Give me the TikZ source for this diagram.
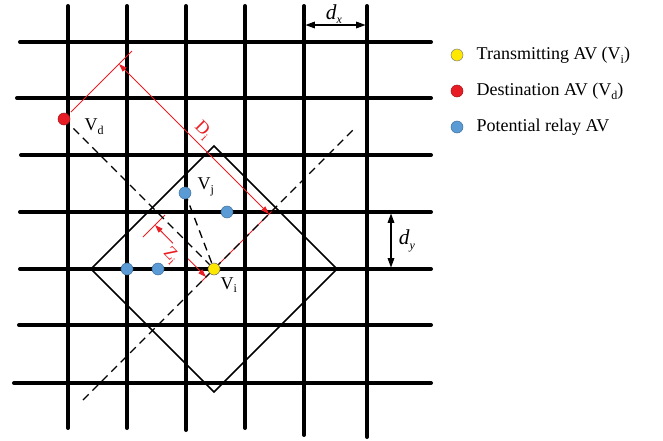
\documentclass[tikz,border=0pt]{standalone}
\usepackage{fontspec}
\setmainfont{Liberation Serif}
\usepackage{tikz}
\usetikzlibrary{arrows.meta,calc}
\definecolor{relayblue}{RGB}{91,155,213}
\definecolor{relayedge}{RGB}{65,113,156}
\definecolor{destred}{RGB}{232,28,36}
\definecolor{txyellow}{RGB}{255,232,0}
\definecolor{dimred}{RGB}{235,30,35}
\newcommand{\lsub}[1]{\raisebox{-0.45ex}{\fontsize{9}{9}\selectfont #1}}

\begin{document}
\begin{tikzpicture}[x=0.75pt,y=-0.75pt,font=\fontsize{13.5}{16}\selectfont,
  road/.style={line width=3pt,line cap=round},
  guide/.style={line width=1pt,dash pattern=on 6pt off 4pt},
  dimline/.style={dimred,line width=0.7pt},
  dimtip/.style={dimline,>={Triangle[length=6pt,width=4pt]}},
  gaptip/.style={line width=0.8pt,{Triangle[length=7pt,width=5pt]}-{Triangle[length=7pt,width=5pt]}},
  av/.style={circle,inner sep=0pt,minimum size=9pt,line width=0.4pt}]
\useasboundingbox (0,0) rectangle (663,440);
% road grid
\foreach \x/\b in {68/428,127/428,186/430,245/428,304/435,367/437}
  \draw[road] (\x,6) -- (\x,\b);
\foreach \y/\a in {42/20,98/17,155/21,212/20,269/20,325/19,383/14}
  \draw[road] (\a,\y) -- (431,\y);
% vehicles
\coordinate (Vi) at (214,269);
\coordinate (Vd) at (64,119);
\coordinate (Vj) at (185,193);
% communication range of V_i
\draw[line width=1.2pt] ($(Vi)+(0,-123)$) -- ($(Vi)+(123,0)$) -- ($(Vi)+(0,123)$)
  -- ($(Vi)+(-123,0)$) -- cycle;
% distance D_i
\draw[dimline] ($(Vd)+(7,-7)$) -- ($(Vd)+(68,-68)$);
\draw[dimline] ($(Vi)+(4,-4)$) -- ($(Vi)+(61,-61)$);
\coordinate (Da) at ($(Vd)+(55,-55)$);
\coordinate (Db) at ($(Vi)+(55,-55)$);
\draw[dimtip,<->] (Da) -- node[above,sloped,dimred,inner sep=3pt] {D\lsub{i}} (Db);
% distance Z_i
\draw[dimline] ($(Vi)+(-71,-32)$) -- ($(Vi)+(-49,-54)$);
\draw[dimline] (Vi) -- ($(Vi)+(-13,13)$);
\coordinate (Za) at ($(Vi)+(-59,-44)$);
\coordinate (Zb) at ($(Vi)+(-8,8)$);
\draw[dimtip,<-] (Za) -- ($(Za)!0.35!(Zb)$);
\draw[dimtip,->] ($(Za)!0.65!(Zb)$) -- (Zb);
\path (Za) -- node[pos=0.45,below,sloped,dimred,inner sep=1.5pt] {Z\lsub{i}} (Zb);
% guide lines
\draw[guide] (Vd) -- (Vi);
\draw[guide] (Vj) -- (Vi);
\draw[guide] ($(Vi)+(-131,131)$) -- ($(Vi)+(139,-139)$);
% spacing
\draw[gaptip] (305.5,25) -- (365.5,25);
\node at (334,14) {\fontsize{16}{16}\selectfont\textit{d}\lsub{\textit{x}}};
\draw[gaptip] (391,213.5) -- (391,267.5);
\node at (407,241) {\fontsize{16}{16}\selectfont\textit{d}\lsub{\textit{y}}};
% nodes
\node[av,fill=destred,draw=destred!70!black] (nd) at (Vd) {};
\node[av,fill=relayblue,draw=relayedge] (nj) at (Vj) {};
\foreach \p in {(227,212),(127,269),(158,269)}
  \node[av,fill=relayblue,draw=relayedge] at \p {};
\node[av,fill=txyellow,draw=black!60] (ni) at (Vi) {};
\node[anchor=west] at (80,127) {V\lsub{d}};
\node[anchor=west] at (193,187) {V\lsub{j}};
\node[anchor=west] at (216,285) {V\lsub{i}};
% legend
\node[av,fill=txyellow,draw=black!50] (ltx) at (457,55) {};
\node[av,fill=destred,draw=destred!70!black] (lds) at (457,91) {};
\node[av,fill=relayblue,draw=relayedge] (lrl) at (457,127) {};
\node[anchor=west] at (472,55) {Transmitting AV (V\lsub{i})};
\node[anchor=west] at (472,91) {Destination AV (V\lsub{d})};
\node[anchor=west] at (472,127) {Potential relay AV};
\end{tikzpicture}
\end{document}
